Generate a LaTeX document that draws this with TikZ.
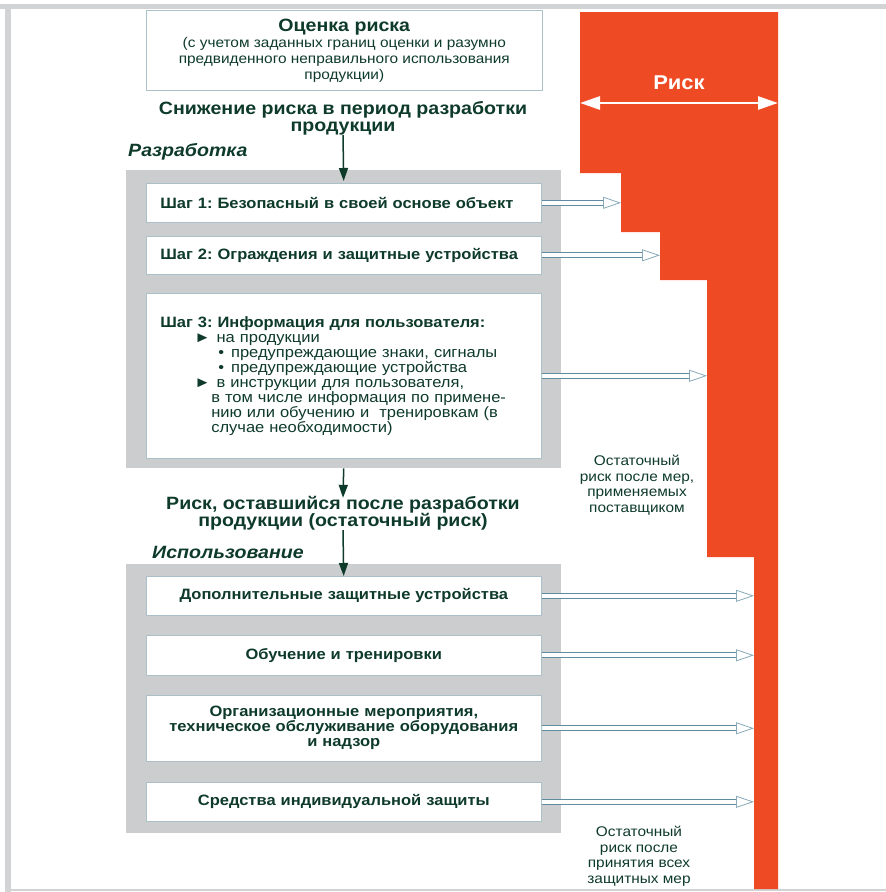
\documentclass[tikz,border=0pt]{standalone}
\usepackage{fontspec}
\setmainfont{Liberation Sans}[FakeStretch=1.1]
\usetikzlibrary{arrows.meta,positioning,calc}
\definecolor{riskRed}{RGB}{238,74,35}
\definecolor{darkGreen}{RGB}{14,58,42}
\definecolor{panelGray}{RGB}{203,205,206}
\definecolor{frameGray}{RGB}{210,211,212}
\definecolor{linkBlue}{RGB}{95,140,160}
\definecolor{boxEdge}{RGB}{172,192,202}
\frenchspacing

\begin{document}
\begin{tikzpicture}[
    x=1pt, y=-1pt,
    panel/.style={rectangle, fill=panelGray, anchor=north west, inner sep=0pt, minimum width=435pt},
    box/.style={rectangle, draw=boxEdge, line width=0.6pt, fill=white, anchor=north west, text width=367pt, inner xsep=14pt, inner ysep=0pt, text=darkGreen, font=\bfseries\fontsize{15}{15}\selectfont},
    stepbox/.style={box, align=left},
    usebox/.style={box, align=center},
    heading/.style={text=darkGreen, font=\bfseries\fontsize{17.8}{17}\selectfont, align=center, inner sep=0pt},
    phase/.style={text=darkGreen, font=\bfseries\itshape\fontsize{17.8}{18}\selectfont, anchor=west, inner sep=0pt},
    note/.style={text=darkGreen, font=\fontsize{14}{15.5}\selectfont, align=center, inner sep=0pt},
    flow/.style={-{Triangle[length=13pt,width=9pt]}, draw=darkGreen, line width=1.5pt},
    shaft/.style={draw=linkBlue, line width=0.9pt, double=white, double distance=4pt},
    head/.style={-{Triangle[open,length=18pt,width=12pt]}, draw=linkBlue!75, line width=0.8pt}
]
    \useasboundingbox (0,0) rectangle (886,892);

    % Frame
    \fill[frameGray] (0,4) rectangle (886,9);
    \fill[frameGray] (5,4) rectangle (11,892);
    \draw[frameGray, line width=1.5pt] (11,890) -- (886,890);

    % Risk column
    \fill[riskRed] (580,12) -- (778,12) -- (778,889) -- (754,889) -- (754,557)
        -- (707,557) -- (707,280) -- (660,280) -- (660,232) -- (621,232)
        -- (621,173) -- (580,173) -- cycle;
    \coordinate (riskL) at (580,103);
    \coordinate (riskR) at (778,103);
    \node[text=white, font=\bfseries\fontsize{20}{20}\selectfont] (risk) at (679,83) {Риск};
    \draw[white, line width=2.8pt, {Triangle[length=20pt,width=13pt]}-{Triangle[length=20pt,width=13pt]}] (riskL) -- (riskR);

    % Edges of the risk column
    \coordinate (h1) at (603,0);  \coordinate (e1) at (621,0);
    \coordinate (h2) at (642,0);  \coordinate (e2) at (660,0);
    \coordinate (h3) at (689,0);  \coordinate (e3) at (707,0);
    \coordinate (h4) at (736,0);  \coordinate (e4) at (754,0);

    % Risk assessment
    \node[rectangle, draw=boxEdge, line width=0.6pt, fill=white, anchor=north west,
        minimum width=396pt, minimum height=80pt, inner sep=0pt, align=center,
        text=darkGreen, font=\fontsize{14}{16}\selectfont] (assess) at (146,10)
        {{\bfseries\fontsize{17.8}{19}\selectfont Оценка риска}\\
        (с учетом заданных границ оценки и разумно\\
        предвиденного неправильного использования\\
        продукции)};

    % Design stage
    \node[heading] (reduce) at (343,118) {Снижение риска в период разработки\\продукции};
    \node[phase] (design) at (128,152) {Разработка};
    \node[panel, minimum height=298pt] (dev) at (126,170) {};

    \node[stepbox, minimum height=39pt] (s1) at (146,183) {Шаг 1: Безопасный в своей основе объект};
    \node[stepbox, minimum height=38pt] (s2) at (146,236) {Шаг 2: Ограждения и защитные устройства};
    \node[stepbox, minimum height=165pt] (s3) at (146,293)
        {Шаг 3: Информация для пользователя:\\
        \mdseries
        \hspace*{34pt}►\hspace{6pt}на продукции\\
        \hspace*{58pt}•\hspace{7pt}предупреждающие знаки, сигналы\\
        \hspace*{58pt}•\hspace{7pt}предупреждающие устройства\\
        \hspace*{34pt}►\hspace{6pt}в инструкции для пользователя,\\
        \hspace*{51pt}в том числе информация по примене-\\
        \hspace*{51pt}нию или обучению и \ тренировкам (в\\
        \hspace*{51pt}случае необходимости)};

    % Use stage
    \node[heading] (resid) at (343,513) {Риск, оставшийся после разработки\\продукции (остаточный риск)};
    \node[phase] (use) at (152,552) {Использование};
    \node[panel, minimum height=269pt] (usage) at (126,564) {};

    \node[usebox, minimum height=39pt] (u1) at (146,576) {Дополнительные защитные устройства};
    \node[usebox, minimum height=40pt] (u2) at (146,635) {Обучение и тренировки};
    \node[usebox, minimum height=66pt] (u3) at (146,695)
        {Организационные мероприятия,\\техническое обслуживание оборудования\\и надзор};
    \node[usebox, minimum height=39pt] (u4) at (146,782) {Средства индивидуальной защиты};

    % Residual risk notes
    \node[note] (note1) at (637,485) {Остаточный\\риск после мер,\\применяемых\\поставщиком};
    \node[note] (note2) at (639,856) {Остаточный\\риск после\\принятия всех\\защитных мер};

    % Flow arrows
    \draw[flow] (reduce.south) -- ([yshift=-11pt]dev.north);
    \draw[flow] (dev.south) -- ([yshift=-2pt]resid.north);
    \draw[flow] (resid.south) -- ([yshift=-12pt]usage.north);

    % Arrows to the risk column
    \draw[shaft] (s1.east) -- (s1.east -| h1);
    \draw[head] (s1.east -| h1) -- (s1.east -| e1);
    \draw[shaft] (s2.east) -- (s2.east -| h2);
    \draw[head] (s2.east -| h2) -- (s2.east -| e2);
    \draw[shaft] (s3.east) -- (s3.east -| h3);
    \draw[head] (s3.east -| h3) -- (s3.east -| e3);
    \draw[shaft] (u1.east) -- (u1.east -| h4);
    \draw[head] (u1.east -| h4) -- (u1.east -| e4);
    \draw[shaft] (u2.east) -- (u2.east -| h4);
    \draw[head] (u2.east -| h4) -- (u2.east -| e4);
    \draw[shaft] (u3.east) -- (u3.east -| h4);
    \draw[head] (u3.east -| h4) -- (u3.east -| e4);
    \draw[shaft] (u4.east) -- (u4.east -| h4);
    \draw[head] (u4.east -| h4) -- (u4.east -| e4);
\end{tikzpicture}
\end{document}
